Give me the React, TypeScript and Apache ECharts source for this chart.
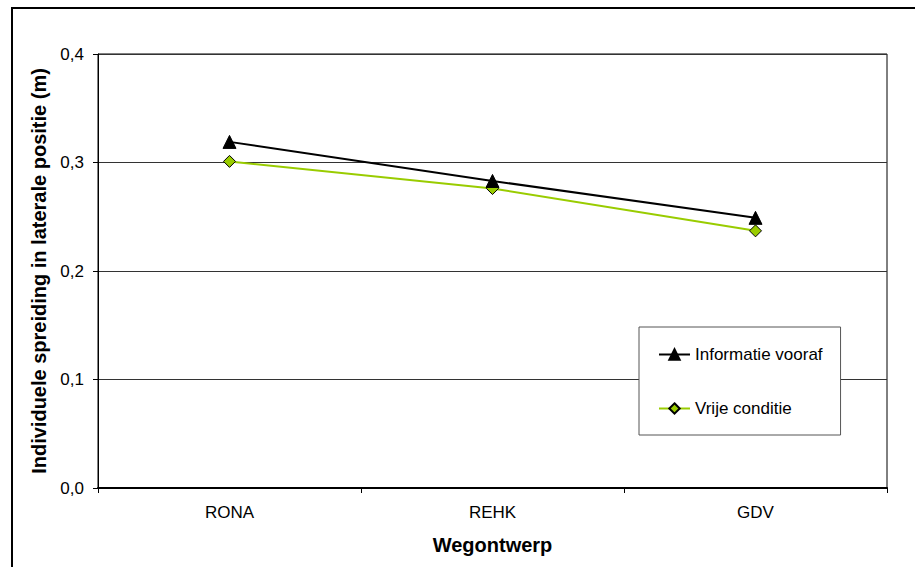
import React, { useEffect, useRef } from "react";
import * as echarts from "echarts";

const categories = ["RONA", "REHK", "GDV"];
const informatieVooraf = [0.319, 0.283, 0.249];
const vrijeConditie = [0.301, 0.276, 0.237];
const seriesNames = ["Informatie vooraf", "Vrije conditie"];

export default function App() {
  const ref = useRef<HTMLDivElement>(null);
  useEffect(() => {
    if (!ref.current) return;
    const chart = echarts.init(ref.current, null, { renderer: "svg" });
    const font = "'Liberation Sans', Arial, sans-serif";
    chart.setOption({
      animation: false,
      backgroundColor: "#fff",
      textStyle: { fontFamily: font },
      graphic: [
        {
          type: "rect",
          shape: { x: 12, y: 8, width: 940, height: 600 },
          style: { fill: "none", stroke: "#000", lineWidth: 2 },
          silent: true,
          z: 0,
        },
      ],
      grid: {
        left: 98,
        top: 54,
        right: 28,
        bottom: 79,
        show: true,
        borderColor: "#000",
        borderWidth: 1,
        backgroundColor: "transparent",
      },
      legend: {
        orient: "vertical",
        left: 639,
        top: 327,
        padding: [19, 18, 18, 19],
        itemGap: 37,
        itemWidth: 31,
        itemHeight: 13,
        backgroundColor: "#fff",
        borderColor: "#555",
        borderWidth: 1,
        textStyle: { fontFamily: font, fontSize: 17, color: "#000" },
        data: seriesNames,
      },
      xAxis: {
        type: "category",
        data: categories,
        boundaryGap: true,
        name: "Wegontwerp",
        nameLocation: "middle",
        nameGap: 47,
        nameTextStyle: { fontFamily: font, fontSize: 20, fontWeight: "bold", color: "#000" },
        axisLine: { lineStyle: { color: "#000", width: 2 } },
        axisTick: { show: true, length: 5, inside: false, lineStyle: { color: "#000" } },
        axisLabel: { fontFamily: font, fontSize: 17, color: "#000", margin: 16 },
        splitLine: { show: false },
      },
      yAxis: {
        type: "value",
        min: 0,
        max: 0.4,
        interval: 0.1,
        name: "Individuele spreiding in laterale positie (m)",
        nameLocation: "middle",
        nameGap: 46,
        nameRotate: 90,
        nameTextStyle: { fontFamily: font, fontSize: 20, fontWeight: "bold", color: "#000" },
        axisLine: { show: true, lineStyle: { color: "#000", width: 1 } },
        axisTick: { show: true, length: 5, inside: false, lineStyle: { color: "#000" } },
        axisLabel: {
          fontFamily: font,
          fontSize: 17,
          color: "#000",
          margin: 14,
          formatter: (v: number) => v.toFixed(1).replace(".", ","),
        },
        splitLine: { show: true, lineStyle: { color: "#333", width: 1 } },
      },
      series: [
        {
          name: seriesNames[0],
          type: "line",
          data: informatieVooraf,
          symbol: "triangle",
          symbolSize: 13,
          lineStyle: { color: "#000", width: 2 },
          itemStyle: { color: "#000", borderColor: "#000", borderWidth: 1 },
          z: 3,
        },
        {
          name: seriesNames[1],
          type: "line",
          data: vrijeConditie,
          symbol: "diamond",
          symbolSize: 12,
          lineStyle: { color: "#99CC00", width: 2 },
          itemStyle: { color: "#99CC00", borderColor: "#000", borderWidth: 1 },
          z: 2,
        },
      ],
    });
    return () => chart.dispose();
  }, []);
  return (
    <div
      ref={ref}
      style={{ position: "fixed", left: 0, top: 0, width: 915, height: 567 }}
    />
  );
}
